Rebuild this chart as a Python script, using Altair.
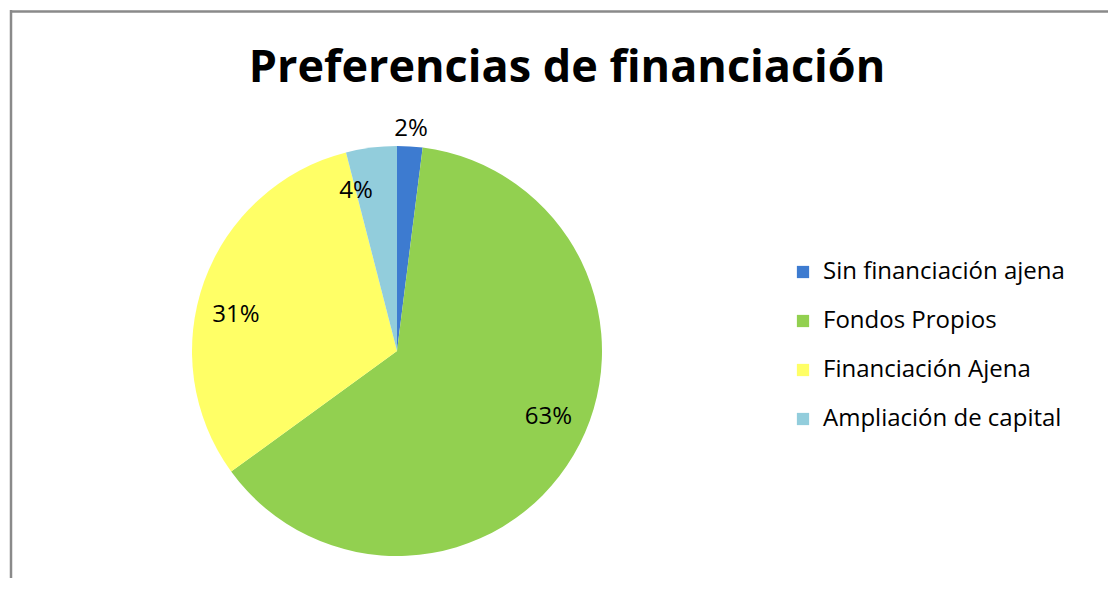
import altair as alt
import pandas as pd

categories = ["Sin financiación ajena", "Fondos Propios", "Financiación Ajena", "Ampliación de capital"]
values = [2, 63, 31, 4]
colors = ["#3D7BD0", "#92D050", "#FFFF66", "#92CDDC"]
title_text = "Preferencias de financiación"

df = pd.DataFrame({
    "cat": categories,
    "val": values,
    "order": list(range(len(categories))),
})
df["label"] = df["val"].astype(str) + "%"

CX, CY, R = 385, 339, 205
FONT = "Open Sans"

base = alt.Chart(df).encode(
    theta=alt.Theta("val:Q", stack=True, scale=alt.Scale(range=[0, 6.283185307])),
    order=alt.Order("order:Q"),
)

pie = base.mark_arc(outerRadius=R, stroke=None).encode(
    x=alt.value(CX),
    y=alt.value(CY),
    color=alt.Color(
        "cat:N",
        sort=categories,
        scale=alt.Scale(domain=categories, range=colors),
        legend=alt.Legend(
            title=None,
            orient="none",
            legendX=779,
            legendY=248,
            symbolType="square",
            symbolSize=150,
            symbolStrokeWidth=0,
            labelFont=FONT,
            labelFontSize=24,
            labelColor="#000000",
            labelLimit=450,
            rowPadding=25,
            labelOffset=8,
        ),
    ),
)

inside = base.mark_text(radius=165, font=FONT, fontSize=24, color="#000000").encode(
    x=alt.value(CX),
    y=alt.value(CY),
    text="label:N",
).transform_filter(alt.datum.val >= 3)

outside = base.mark_text(radius=R + 17, font=FONT, fontSize=24, color="#000000").encode(
    x=alt.value(CX),
    y=alt.value(CY),
    text="label:N",
).transform_filter(alt.datum.val < 3)

title_df = pd.DataFrame({"t": [title_text]})
title = alt.Chart(title_df).mark_text(
    font=FONT, fontSize=45, fontWeight="bold", color="#000000", baseline="alphabetic", align="center"
).encode(x=alt.value(555), y=alt.value(70), text="t:N")

frame_df = pd.DataFrame({"a": [0]})
top_rule = alt.Chart(frame_df).mark_rule(color="#8a8a8a", strokeWidth=2.5).encode(
    x=alt.value(-2), x2=alt.value(1200), y=alt.value(-0.5)
)
left_rule = alt.Chart(frame_df).mark_rule(color="#8a8a8a", strokeWidth=2.5).encode(
    x=alt.value(-1), y=alt.value(-2), y2=alt.value(700)
)

chart = alt.layer(pie, inside, outside, title, top_rule, left_rule).properties(
    width=1100,
    height=570,
    autosize=alt.AutoSizeParams(type="fit", contains="padding"),
    padding=0,
).configure_view(stroke=None)

chart.save("out.html", embed_options={"renderer": "svg", "actions": False})
